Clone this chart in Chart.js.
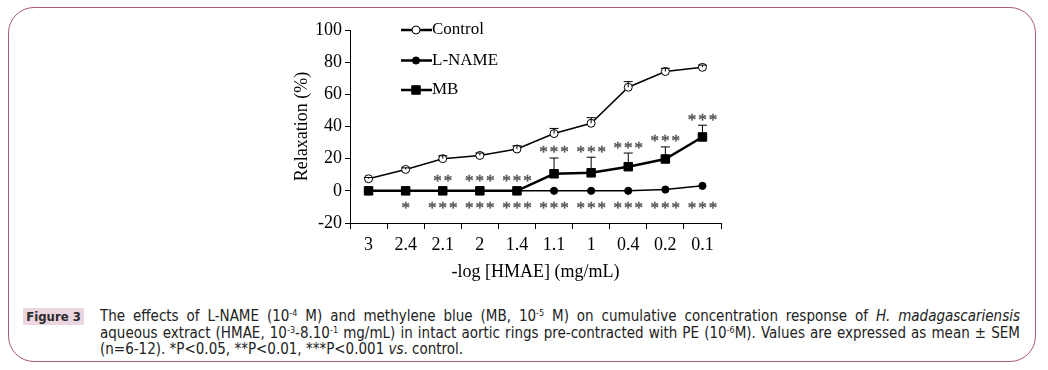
<!DOCTYPE html>
<html>
<head>
<meta charset="utf-8">
<script src="https://cdn.jsdelivr.net/npm/chart.js@4.4.1/dist/chart.umd.min.js"></script>
<style>
  html, body { margin: 0; padding: 0; background: #fff; }
  #wrap { position: relative; width: 1048px; height: 370px; overflow: hidden; }
  #frame {
    position: absolute; left: 8px; top: 7px; width: 1026px; height: 353px;
    border: 1.5px solid #a8587f; border-radius: 26px;
  }
  #cv { position: absolute; left: 0; top: 0; }
  #figlab {
    position: absolute; left: 23px; top: 308px; width: 61px; height: 17px;
    background: #ead5e0; color: #2b2b2b; font: bold 13px "DejaVu Sans Condensed", sans-serif;
    text-align: center; line-height: 17px;
  }
  #caption {
    position: absolute; left: 100px; top: 308px; width: 920px;
    font: 15px "DejaVu Sans Condensed", sans-serif; color: #222;
  }
  #caption div { line-height: 16.5px; white-space: nowrap; }
  #caption .j { text-align: justify; text-align-last: justify; }
  sup { font-size: 9px; line-height: 0; vertical-align: 5px; }
</style>
</head>
<body>
<div id="wrap">
  <div id="frame"></div>
  <canvas id="cv" width="1048" height="300"></canvas>
  <div id="figlab">Figure 3</div>
  <div id="caption">
    <div class="j">The effects of L-NAME (10<sup>-4</sup> M) and methylene blue (MB, 10<sup>-5</sup> M) on cumulative concentration response of <i>H. madagascariensis</i></div>
    <div class="j">aqueous extract (HMAE, 10<sup>-3</sup>-8.10<sup>-1</sup> mg/mL) in intact aortic rings pre-contracted with PE (10<sup>-6</sup>M). Values are expressed as mean ± SEM</div>
    <div>(n=6-12). *P&lt;0.05, **P&lt;0.01, ***P&lt;0.001 <i>vs</i>. control.</div>
  </div>
</div>
<script>
const categories = ['3', '2.4', '2.1', '2', '1.4', '1.1', '1', '0.4', '0.2', '0.1'];
const control    = [7.5, 13.3, 20, 22, 26, 35.6, 42, 64.4, 74.2, 76.8];
const controlSem = [0.8, 1, 1.8, 1.5, 2, 3.2, 3.5, 3.5, 2, 1.4];
const lname      = [0, 0, 0, 0, 0, 0, 0, 0, 0.8, 3.1];
const mb         = [0, 0, 0, 0, 0, 10.6, 11.2, 15, 19.8, 33.5];
const mbSem      = [0, 0, 0, 0, 0, 9.8, 9.7, 8.5, 7.5, 7.3];
const sigMB      = ['', '', '**', '***', '***', '***', '***', '***', '***', '***'];
const sigLname   = ['', '*', '***', '***', '***', '***', '***', '***', '***', '***'];

const serif = '"Liberation Serif", "Times New Roman", serif';

const extras = {
  id: 'extras',
  afterDatasetsDraw(chart) {
    const ctx = chart.ctx;
    const x = chart.scales.x, y = chart.scales.y;
    ctx.save();
    // error bars (upper only)
    ctx.strokeStyle = '#000';
    ctx.lineWidth = 1;
    const bars = (vals, sems) => vals.forEach((v, i) => {
      if (!sems[i]) return;
      const px = x.getPixelForValue(i);
      const y0 = y.getPixelForValue(v), y1 = y.getPixelForValue(v + sems[i]);
      ctx.beginPath();
      ctx.moveTo(px, y0); ctx.lineTo(px, y1);
      ctx.moveTo(px - 4.5, y1); ctx.lineTo(px + 4.5, y1);
      ctx.stroke();
    });
    bars(control, controlSem);
    bars(mb, mbSem);

    // significance stars
    ctx.fillStyle = '#595959';
    ctx.strokeStyle = '#595959';
    ctx.lineWidth = 0.5;
    ctx.font = '17px ' + serif;
    ctx.letterSpacing = '2px';
    ctx.textAlign = 'center';
    ctx.textBaseline = 'middle';
    const star = (s, px, py) => { ctx.fillText(s, px + 1, py); ctx.strokeText(s, px + 1, py); };
    sigMB.forEach((s, i) => {
      if (!s) return;
      let top = y.getPixelForValue(mb[i] + mbSem[i]);
      if (!mbSem[i]) top -= 4;
      star(s, x.getPixelForValue(i), top - 5);
    });
    sigLname.forEach((s, i) => {
      if (!s) return;
      star(s, x.getPixelForValue(i), y.getPixelForValue(0) + 18);
    });
    ctx.letterSpacing = '0px';

    // legend
    const items = chart.data.datasets;
    const ly = [30, 60.5, 90];
    items.forEach((ds, k) => {
      ctx.strokeStyle = '#000';
      ctx.lineWidth = 2.5;
      ctx.beginPath();
      ctx.moveTo(401, ly[k]); ctx.lineTo(432, ly[k]);
      ctx.stroke();
      ctx.fillStyle = ds.pointBackgroundColor;
      ctx.strokeStyle = '#000';
      ctx.lineWidth = ds.pointBorderWidth;
      Chart.helpers.drawPoint(ctx, { pointStyle: ds.pointStyle, radius: ds.pointRadius, rotation: 0, borderWidth: ds.pointBorderWidth }, 416, ly[k]);
      ctx.fillStyle = '#000';
      ctx.font = '17px ' + serif;
      ctx.textAlign = 'left';
      ctx.fillText(ds.label, 432, ly[k]);
    });
    ctx.restore();
  }
};

new Chart(document.getElementById('cv'), {
  type: 'line',
  data: {
    labels: categories,
    datasets: [
      { label: 'Control', data: control, borderColor: '#000', borderWidth: 1.5,
        pointStyle: 'circle', pointRadius: 4, pointBackgroundColor: '#fff', pointBorderColor: '#000', pointBorderWidth: 1 },
      { label: 'L-NAME', data: lname, borderColor: '#000', borderWidth: 1.5,
        pointStyle: 'circle', pointRadius: 3.6, pointBackgroundColor: '#000', pointBorderColor: '#000', pointBorderWidth: 1 },
      { label: 'MB', data: mb, borderColor: '#000', borderWidth: 2.5,
        pointStyle: 'rect', pointRadius: 6, pointBackgroundColor: '#000', pointBorderColor: '#000', pointBorderWidth: 1 }
    ]
  },
  options: {
    responsive: false,
    animation: false,
    layout: { padding: { left: 250, right: 327, top: 30, bottom: 17 } },
    plugins: { legend: { display: false }, tooltip: { enabled: false } },
    scales: {
      x: {
        offset: true,
        grid: { offset: true, drawOnChartArea: false, tickLength: 6, color: '#000' },
        border: { color: '#000', width: 1 },
        ticks: { color: '#000', font: { family: serif, size: 18 }, padding: 5, maxRotation: 0 },
        title: { display: true, text: '-log [HMAE] (mg/mL)', color: '#000', font: { family: serif, size: 18 }, padding: { top: 1, bottom: 0 } },
        afterFit: s => { s.height = 60; }
      },
      y: {
        min: -20, max: 100,
        ticks: { stepSize: 20, color: '#000', font: { family: serif, size: 18 }, padding: 3 },
        grid: { drawOnChartArea: false, tickLength: 5, color: '#000' },
        border: { color: '#000', width: 1 },
        title: { display: true, text: 'Relaxation (%)', color: '#000', font: { family: serif, size: 18 }, padding: { top: 41, bottom: 0 } },
        afterFit: s => { s.width = 100; }
      }
    }
  },
  plugins: [extras]
});
</script>
</body>
</html>
